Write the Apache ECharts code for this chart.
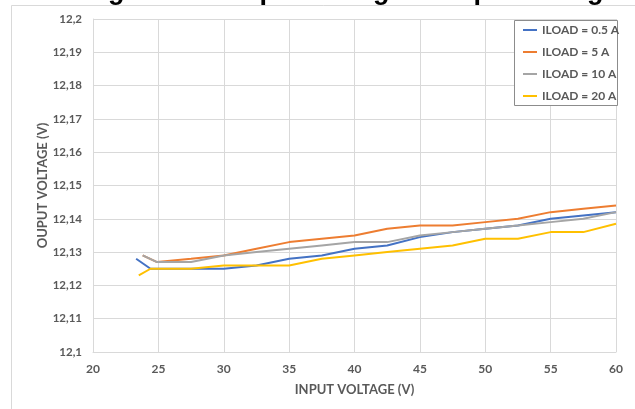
<!DOCTYPE html>
<html>
<head>
<meta charset="utf-8">
<script src="https://cdn.jsdelivr.net/npm/echarts@6/dist/echarts.min.js"></script>
<style>
  html, body { margin: 0; padding: 0; background: #ffffff; }
  #chart { width: 635px; height: 409px; }
</style>
</head>
<body>
<div id="chart"></div>
<script>
// Output voltage regulation measured over the input voltage range, per load current
const seriesNames = ['ILOAD = 0.5 A', 'ILOAD = 5 A', 'ILOAD = 10 A', 'ILOAD = 20 A'];

const vin05 = [23.3, 24.4, 27.5, 30, 32.5, 35, 37.5, 40, 42.5, 45, 47.5, 50, 52.5, 55, 57.5, 60];
const vout05 = [12.128, 12.125, 12.125, 12.125, 12.126, 12.128, 12.129, 12.131, 12.132, 12.1345, 12.136, 12.137, 12.138, 12.140, 12.141, 12.142];

const vin5 = [23.8, 24.9, 27.5, 30, 32.5, 35, 37.5, 40, 42.5, 45, 47.5, 50, 52.5, 55, 57.5, 60];
const vout5 = [12.129, 12.127, 12.128, 12.129, 12.131, 12.133, 12.134, 12.135, 12.137, 12.138, 12.138, 12.139, 12.140, 12.142, 12.143, 12.144];

const vin10 = [23.8, 24.9, 27.5, 30, 32.5, 35, 37.5, 40, 42.5, 45, 47.5, 50, 52.5, 55, 57.5, 60];
const vout10 = [12.129, 12.127, 12.127, 12.129, 12.130, 12.131, 12.132, 12.133, 12.133, 12.135, 12.136, 12.137, 12.138, 12.139, 12.140, 12.142];

const vin20 = [23.5, 24.4, 27.5, 30, 32.5, 35, 37.5, 40, 42.5, 45, 47.5, 50, 52.5, 55, 57.5, 60];
const vout20 = [12.123, 12.125, 12.125, 12.126, 12.126, 12.126, 12.128, 12.129, 12.130, 12.131, 12.132, 12.134, 12.134, 12.136, 12.136, 12.1385];

const xTicks = [20, 25, 30, 35, 40, 45, 50, 55, 60];
const yTicks = [12.1, 12.11, 12.12, 12.13, 12.14, 12.15, 12.16, 12.17, 12.18, 12.19, 12.2];

const colors = ['#4472C4', '#ED7D31', '#A5A5A5', '#FFC000'];
const labelFont = "Lato, 'Open Sans', sans-serif";
const gridColor = '#D9D9D9';
const textGray = '#595959';

const pairs = (xs, ys) => xs.map((x, i) => [x, ys[i]]);
const allX = [vin05, vin5, vin10, vin20];
const allY = [vout05, vout5, vout10, vout20];

const chart = echarts.init(document.getElementById('chart'), null, { renderer: 'canvas' });

chart.setOption({
  backgroundColor: '#ffffff',
  animation: false,
  color: colors,
  graphic: [
    {
      type: 'rect', z: 0, silent: true,
      shape: { x: 11.5, y: 5.5, width: 700, height: 500 },
      style: { fill: 'none', stroke: gridColor, lineWidth: 1 }
    },
    {
      type: 'text', z: 10, silent: true,
      style: {
        x: 84, y: -8,
        text: 'Figure 4 - Output Voltage vs Input Voltage',
        font: "bold 27px 'Liberation Sans', Arial, sans-serif",
        fill: '#000000',
        textAlign: 'left',
        textVerticalAlign: 'middle'
      }
    },
    {
      type: 'rect', z: 5, silent: true,
      shape: { x: 514.5, y: 20.5, width: 103, height: 85 },
      style: { fill: '#ffffff', stroke: '#8C8C8C', lineWidth: 1 }
    }
  ],
  grid: { left: 93, right: 19, top: 19, bottom: 57, containLabel: false },
  legend: {
    orient: 'vertical',
    left: 514, top: 22,
    padding: [1, 4, 4, 9],
    itemGap: 8,
    itemWidth: 14,
    itemHeight: 2,
    icon: 'rect',
    z: 6,
    data: seriesNames,
    textStyle: { color: textGray, fontFamily: labelFont, fontWeight: 'bold', fontSize: 12, lineHeight: 14 }
  },
  xAxis: {
    type: 'value',
    min: xTicks[0], max: xTicks[xTicks.length - 1], interval: 5,
    name: 'INPUT VOLTAGE (V)',
    nameLocation: 'middle',
    nameGap: 31,
    nameMoveOverlap: false,
    nameTextStyle: { color: textGray, fontFamily: labelFont, fontWeight: 'bold', fontSize: 13 },
    axisLine: { show: true, lineStyle: { color: gridColor, width: 1 } },
    axisTick: { show: false },
    axisLabel: { color: textGray, fontFamily: labelFont, fontWeight: 'bold', fontSize: 12, margin: 11 },
    splitLine: { show: true, lineStyle: { color: gridColor, width: 1 } }
  },
  yAxis: {
    type: 'value',
    min: yTicks[0], max: yTicks[yTicks.length - 1], interval: 0.01,
    name: 'OUPUT VOLTAGE (V)',
    nameLocation: 'middle',
    nameGap: 44,
    nameMoveOverlap: false,
    nameTextStyle: { color: textGray, fontFamily: labelFont, fontWeight: 'bold', fontSize: 13 },
    axisLine: { show: true, lineStyle: { color: gridColor, width: 1 } },
    axisTick: { show: false },
    axisLabel: {
      color: textGray, fontFamily: labelFont, fontWeight: 'bold', fontSize: 11.5, margin: 11,
      formatter: v => String(parseFloat(v.toFixed(2))).replace('.', ',')
    },
    splitLine: { show: true, lineStyle: { color: gridColor, width: 1 } }
  },
  series: seriesNames.map((name, i) => ({
    name,
    type: 'line',
    data: pairs(allX[i], allY[i]),
    showSymbol: false,
    symbol: 'none',
    lineStyle: { width: 2, color: colors[i] },
    itemStyle: { color: colors[i] },
    z: 2 + i
  }))
});
</script>
</body>
</html>
